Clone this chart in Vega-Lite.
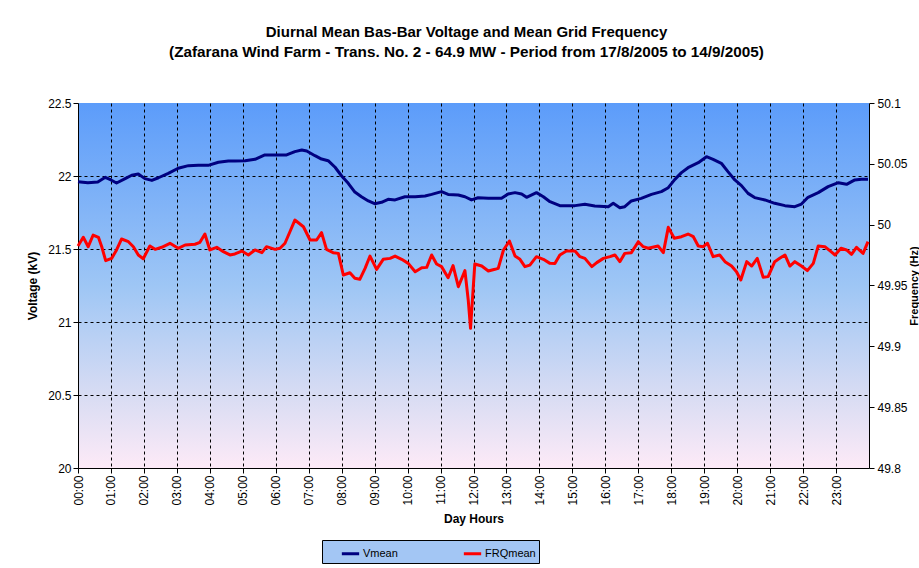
{
  "$schema": "https://vega.github.io/schema/vega-lite/v6.json",
  "width": 791,
  "height": 365,
  "autosize": {"type": "none"},
  "padding": {"left": 78, "top": 103, "right": 50, "bottom": 100},
  "background": "white",
  "title": {
    "text": "Diurnal Mean Bas-Bar Voltage and Mean Grid Frequency",
    "subtitle": "(Zafarana Wind Farm - Trans. No. 2 - 64.9 MW - Period from 17/8/2005 to 14/9/2005)",
    "font": "Liberation Sans", "fontSize": 15, "fontWeight": "bold", "color": "black",
    "subtitleFont": "Liberation Sans", "subtitleFontSize": 15.3, "subtitleFontWeight": "bold", "subtitleColor": "black",
    "subtitlePadding": 5, "anchor": "middle", "offset": 37, "dx": -7
  },
  "datasets": {
    "volt": [
      {"hour": 0.00, "voltage": 21.961}, {"hour": 0.30, "voltage": 21.954}, {"hour": 0.60, "voltage": 21.959},
      {"hour": 0.83, "voltage": 21.991}, {"hour": 1.00, "voltage": 21.973}, {"hour": 1.17, "voltage": 21.952},
      {"hour": 1.43, "voltage": 21.982}, {"hour": 1.63, "voltage": 22.005}, {"hour": 1.83, "voltage": 22.014},
      {"hour": 2.03, "voltage": 21.982}, {"hour": 2.24, "voltage": 21.970}, {"hour": 2.44, "voltage": 21.988},
      {"hour": 2.74, "voltage": 22.018}, {"hour": 3.04, "voltage": 22.053}, {"hour": 3.35, "voltage": 22.071},
      {"hour": 3.65, "voltage": 22.073}, {"hour": 3.95, "voltage": 22.073}, {"hour": 4.26, "voltage": 22.094},
      {"hour": 4.56, "voltage": 22.103}, {"hour": 4.76, "voltage": 22.103}, {"hour": 5.07, "voltage": 22.105},
      {"hour": 5.37, "voltage": 22.114}, {"hour": 5.67, "voltage": 22.144}, {"hour": 5.98, "voltage": 22.144},
      {"hour": 6.33, "voltage": 22.144}, {"hour": 6.58, "voltage": 22.167}, {"hour": 6.79, "voltage": 22.178},
      {"hour": 6.94, "voltage": 22.171}, {"hour": 7.19, "voltage": 22.139}, {"hour": 7.39, "voltage": 22.116},
      {"hour": 7.59, "voltage": 22.105}, {"hour": 7.80, "voltage": 22.060}, {"hour": 8.00, "voltage": 22.000},
      {"hour": 8.20, "voltage": 21.950}, {"hour": 8.40, "voltage": 21.890}, {"hour": 8.60, "voltage": 21.858},
      {"hour": 8.81, "voltage": 21.829}, {"hour": 9.00, "voltage": 21.810}, {"hour": 9.21, "voltage": 21.820},
      {"hour": 9.41, "voltage": 21.840}, {"hour": 9.62, "voltage": 21.836}, {"hour": 9.92, "voltage": 21.858},
      {"hour": 10.23, "voltage": 21.858}, {"hour": 10.53, "voltage": 21.863}, {"hour": 10.73, "voltage": 21.874},
      {"hour": 11.03, "voltage": 21.893}, {"hour": 11.23, "voltage": 21.874}, {"hour": 11.54, "voltage": 21.870},
      {"hour": 11.74, "voltage": 21.858}, {"hour": 11.94, "voltage": 21.836}, {"hour": 12.14, "voltage": 21.851},
      {"hour": 12.45, "voltage": 21.847}, {"hour": 12.85, "voltage": 21.847}, {"hour": 13.05, "voltage": 21.877},
      {"hour": 13.26, "voltage": 21.886}, {"hour": 13.46, "voltage": 21.877}, {"hour": 13.61, "voltage": 21.854},
      {"hour": 13.91, "voltage": 21.886}, {"hour": 14.12, "voltage": 21.858}, {"hour": 14.32, "voltage": 21.824},
      {"hour": 14.62, "voltage": 21.797}, {"hour": 15.08, "voltage": 21.797}, {"hour": 15.38, "voltage": 21.806},
      {"hour": 15.68, "voltage": 21.795}, {"hour": 16.09, "voltage": 21.790}, {"hour": 16.24, "voltage": 21.813},
      {"hour": 16.44, "voltage": 21.783}, {"hour": 16.59, "voltage": 21.790}, {"hour": 16.79, "voltage": 21.829},
      {"hour": 17.09, "voltage": 21.847}, {"hour": 17.40, "voltage": 21.874}, {"hour": 17.70, "voltage": 21.893},
      {"hour": 17.91, "voltage": 21.920}, {"hour": 18.11, "voltage": 21.977}, {"hour": 18.31, "voltage": 22.023},
      {"hour": 18.51, "voltage": 22.057}, {"hour": 18.82, "voltage": 22.091}, {"hour": 19.07, "voltage": 22.132},
      {"hour": 19.27, "voltage": 22.114}, {"hour": 19.52, "voltage": 22.087}, {"hour": 19.72, "voltage": 22.030},
      {"hour": 19.93, "voltage": 21.973}, {"hour": 20.13, "voltage": 21.934}, {"hour": 20.33, "voltage": 21.881},
      {"hour": 20.53, "voltage": 21.852}, {"hour": 20.84, "voltage": 21.836}, {"hour": 21.14, "voltage": 21.813},
      {"hour": 21.45, "voltage": 21.797}, {"hour": 21.75, "voltage": 21.790}, {"hour": 21.95, "voltage": 21.808},
      {"hour": 22.15, "voltage": 21.854}, {"hour": 22.46, "voltage": 21.886}, {"hour": 22.76, "voltage": 21.927},
      {"hour": 23.07, "voltage": 21.954}, {"hour": 23.32, "voltage": 21.943}, {"hour": 23.57, "voltage": 21.973},
      {"hour": 23.77, "voltage": 21.977}, {"hour": 23.97, "voltage": 21.977}
    ],
    "freq": [
      {"hour": 0.00, "frequency": 49.9825}, {"hour": 0.16, "frequency": 49.9896}, {"hour": 0.31, "frequency": 49.9819},
      {"hour": 0.46, "frequency": 49.9915}, {"hour": 0.62, "frequency": 49.9896}, {"hour": 0.72, "frequency": 49.9819},
      {"hour": 0.84, "frequency": 49.9704}, {"hour": 1.02, "frequency": 49.9723}, {"hour": 1.17, "frequency": 49.9792},
      {"hour": 1.32, "frequency": 49.9882}, {"hour": 1.53, "frequency": 49.9860}, {"hour": 1.68, "frequency": 49.9819},
      {"hour": 1.83, "frequency": 49.9751}, {"hour": 1.98, "frequency": 49.9720}, {"hour": 2.18, "frequency": 49.9825},
      {"hour": 2.34, "frequency": 49.9797}, {"hour": 2.54, "frequency": 49.9814}, {"hour": 2.79, "frequency": 49.9847},
      {"hour": 3.04, "frequency": 49.9806}, {"hour": 3.25, "frequency": 49.9833}, {"hour": 3.55, "frequency": 49.9839},
      {"hour": 3.70, "frequency": 49.9855}, {"hour": 3.85, "frequency": 49.9923}, {"hour": 4.00, "frequency": 49.9792},
      {"hour": 4.21, "frequency": 49.9814}, {"hour": 4.41, "frequency": 49.9778}, {"hour": 4.61, "frequency": 49.9751},
      {"hour": 4.76, "frequency": 49.9759}, {"hour": 4.97, "frequency": 49.9783}, {"hour": 5.17, "frequency": 49.9751},
      {"hour": 5.37, "frequency": 49.9792}, {"hour": 5.58, "frequency": 49.9770}, {"hour": 5.72, "frequency": 49.9819},
      {"hour": 5.98, "frequency": 49.9797}, {"hour": 6.13, "frequency": 49.9806}, {"hour": 6.28, "frequency": 49.9847},
      {"hour": 6.43, "frequency": 49.9942}, {"hour": 6.58, "frequency": 50.0038}, {"hour": 6.84, "frequency": 49.9983},
      {"hour": 7.04, "frequency": 49.9874}, {"hour": 7.24, "frequency": 49.9874}, {"hour": 7.39, "frequency": 49.9934},
      {"hour": 7.54, "frequency": 49.9797}, {"hour": 7.74, "frequency": 49.9770}, {"hour": 7.90, "frequency": 49.9764},
      {"hour": 8.05, "frequency": 49.9586}, {"hour": 8.25, "frequency": 49.9605}, {"hour": 8.40, "frequency": 49.9559},
      {"hour": 8.55, "frequency": 49.9551}, {"hour": 8.71, "frequency": 49.9641}, {"hour": 8.86, "frequency": 49.9742},
      {"hour": 9.06, "frequency": 49.9633}, {"hour": 9.26, "frequency": 49.9715}, {"hour": 9.47, "frequency": 49.9723},
      {"hour": 9.62, "frequency": 49.9742}, {"hour": 9.82, "frequency": 49.9715}, {"hour": 10.02, "frequency": 49.9682},
      {"hour": 10.23, "frequency": 49.9613}, {"hour": 10.43, "frequency": 49.9646}, {"hour": 10.58, "frequency": 49.9649},
      {"hour": 10.73, "frequency": 49.9751}, {"hour": 10.88, "frequency": 49.9677}, {"hour": 11.03, "frequency": 49.9655},
      {"hour": 11.23, "frequency": 49.9564}, {"hour": 11.38, "frequency": 49.9663}, {"hour": 11.54, "frequency": 49.9490},
      {"hour": 11.74, "frequency": 49.9622}, {"hour": 11.84, "frequency": 49.9381}, {"hour": 11.91, "frequency": 49.9148},
      {"hour": 12.04, "frequency": 49.9677}, {"hour": 12.25, "frequency": 49.9660}, {"hour": 12.45, "frequency": 49.9619},
      {"hour": 12.65, "frequency": 49.9633}, {"hour": 12.75, "frequency": 49.9641}, {"hour": 12.91, "frequency": 49.9792},
      {"hour": 13.09, "frequency": 49.9866}, {"hour": 13.26, "frequency": 49.9742}, {"hour": 13.41, "frequency": 49.9715},
      {"hour": 13.56, "frequency": 49.9655}, {"hour": 13.71, "frequency": 49.9668}, {"hour": 13.91, "frequency": 49.9737},
      {"hour": 14.12, "frequency": 49.9715}, {"hour": 14.32, "frequency": 49.9682}, {"hour": 14.47, "frequency": 49.9680},
      {"hour": 14.62, "frequency": 49.9751}, {"hour": 14.82, "frequency": 49.9783}, {"hour": 15.08, "frequency": 49.9783},
      {"hour": 15.23, "frequency": 49.9737}, {"hour": 15.38, "frequency": 49.9723}, {"hour": 15.59, "frequency": 49.9655},
      {"hour": 15.74, "frequency": 49.9688}, {"hour": 15.94, "frequency": 49.9723}, {"hour": 16.14, "frequency": 49.9737},
      {"hour": 16.29, "frequency": 49.9751}, {"hour": 16.44, "frequency": 49.9696}, {"hour": 16.59, "frequency": 49.9764},
      {"hour": 16.79, "frequency": 49.9770}, {"hour": 17.00, "frequency": 49.9860}, {"hour": 17.15, "frequency": 49.9819},
      {"hour": 17.30, "frequency": 49.9806}, {"hour": 17.60, "frequency": 49.9825}, {"hour": 17.76, "frequency": 49.9770},
      {"hour": 17.91, "frequency": 49.9978}, {"hour": 18.09, "frequency": 49.9888}, {"hour": 18.31, "frequency": 49.9901},
      {"hour": 18.51, "frequency": 49.9923}, {"hour": 18.67, "frequency": 49.9901}, {"hour": 18.82, "frequency": 49.9825},
      {"hour": 18.97, "frequency": 49.9819}, {"hour": 19.10, "frequency": 49.9847}, {"hour": 19.27, "frequency": 49.9737},
      {"hour": 19.47, "frequency": 49.9751}, {"hour": 19.63, "frequency": 49.9696}, {"hour": 19.83, "frequency": 49.9660},
      {"hour": 19.98, "frequency": 49.9613}, {"hour": 20.11, "frequency": 49.9545}, {"hour": 20.29, "frequency": 49.9696},
      {"hour": 20.44, "frequency": 49.9660}, {"hour": 20.61, "frequency": 49.9723}, {"hour": 20.79, "frequency": 49.9567},
      {"hour": 20.94, "frequency": 49.9573}, {"hour": 21.14, "frequency": 49.9696}, {"hour": 21.29, "frequency": 49.9723},
      {"hour": 21.45, "frequency": 49.9751}, {"hour": 21.60, "frequency": 49.9660}, {"hour": 21.75, "frequency": 49.9696},
      {"hour": 21.95, "frequency": 49.9660}, {"hour": 22.13, "frequency": 49.9622}, {"hour": 22.31, "frequency": 49.9682},
      {"hour": 22.46, "frequency": 49.9825}, {"hour": 22.66, "frequency": 49.9819}, {"hour": 22.81, "frequency": 49.9786},
      {"hour": 22.97, "frequency": 49.9751}, {"hour": 23.15, "frequency": 49.9806}, {"hour": 23.32, "frequency": 49.9792},
      {"hour": 23.47, "frequency": 49.9756}, {"hour": 23.62, "frequency": 49.9814}, {"hour": 23.82, "frequency": 49.9764},
      {"hour": 23.97, "frequency": 49.9860}
    ]
  },
  "encoding": {
    "x": {
      "field": "hour", "type": "quantitative",
      "scale": {"domain": [0, 24], "nice": false, "zero": false},
      "title": "Day Hours",
      "axis": {
        "values": [0,1,2,3,4,5,6,7,8,9,10,11,12,13,14,15,16,17,18,19,20,21,22,23],
        "tickCount": 24,
        "labelExpr": "(datum.value < 10 ? '0' : '') + datum.value + ':00'",
        "labelAngle": -90, "labelAlign": "right", "labelBaseline": "middle",
        "labelFlush": false, "labelOverlap": false, "labelPadding": 2,
        "grid": true, "gridColor": "black", "gridDash": [3, 3],
        "gridOpacity": {"condition": {"test": "datum.value <= 0", "value": 0}, "value": 1},
        "titlePadding": 8
      }
    }
  },
  "layer": [
    {
      "data": {"name": "volt"},
      "mark": {"type": "line", "strokeWidth": 3, "strokeJoin": "round"},
      "encoding": {
        "y": {
          "field": "voltage", "type": "quantitative",
          "scale": {"domain": [20, 22.5], "nice": false, "zero": false},
          "title": "Voltage (kV)",
          "axis": {
            "values": [20, 20.5, 21, 21.5, 22, 22.5], "format": "~g",
            "labelFlush": false, "labelPadding": 2,
            "grid": true, "gridColor": "black", "gridDash": [3, 3],
            "gridOpacity": {"condition": {"test": "datum.value >= 22.5 || datum.value <= 20", "value": 0}, "value": 1},
            "titlePadding": 8
          }
        },
        "color": {
          "datum": "Vmean",
          "scale": {"domain": ["Vmean", "FRQmean"], "range": ["#000080", "#ff0000"]},
          "legend": {
            "orient": "none", "legendX": 244, "legendY": 437, "direction": "horizontal", "title": null,
            "fillColor": "#a3c6f4",
            "strokeColor": "black", "padding": 3, "symbolOffset": 15, "columnPadding": 33, "gridAlign": "all",
            "symbolType": "stroke", "symbolSize": 300, "symbolStrokeWidth": 3,
            "labelFont": "Liberation Sans", "labelFontSize": 11, "labelColor": "black", "labelOffset": 2
          }
        }
      }
    },
    {
      "data": {"name": "freq"},
      "mark": {"type": "line", "strokeWidth": 3, "strokeJoin": "round"},
      "encoding": {
        "y": {
          "field": "frequency", "type": "quantitative",
          "scale": {"domain": [49.8, 50.1], "nice": false, "zero": false},
          "title": "Frequency (Hz)",
          "axis": {
            "orient": "right",
            "values": [49.8, 49.85, 49.9, 49.95, 50, 50.05, 50.1], "format": "~g",
            "labelFlush": false, "labelPadding": 3, "grid": false,
            "titleAngle": -90, "titlePadding": 12, "titleFontSize": 11
          }
        },
        "color": {"datum": "FRQmean"}
      }
    }
  ],
  "resolve": {"scale": {"y": "independent"}, "axis": {"y": "independent"}},
  "config": {
    "view": {
      "fill": {"gradient": "linear", "x1": 0, "y1": 0, "x2": 0, "y2": 1,
        "stops": [
          {"offset": 0, "color": "#5c9cfa"},
          {"offset": 0.5, "color": "#9ec6f5"},
          {"offset": 0.8, "color": "#d8dcf3"},
          {"offset": 1, "color": "#fdeaf7"}
        ]},
      "stroke": null
    },
    "axis": {
      "labelFont": "Liberation Sans", "labelFontSize": 12, "labelColor": "black",
      "titleFont": "Liberation Sans", "titleFontSize": 12, "titleFontWeight": "bold", "titleColor": "black",
      "domainColor": "black", "tickColor": "black", "tickSize": 5
    }
  }
}
